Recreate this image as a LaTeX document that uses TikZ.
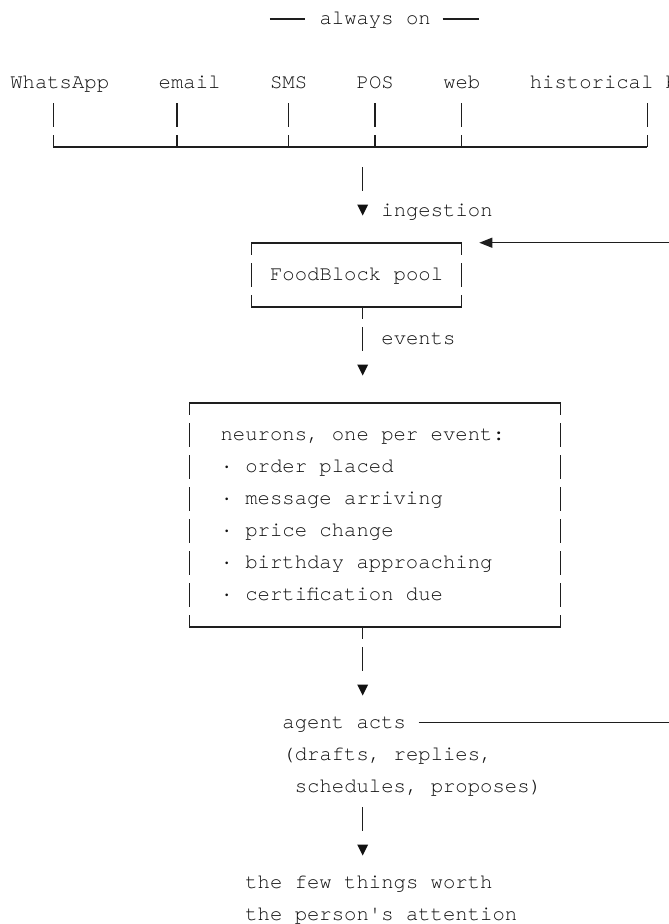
\documentclass[tikz,border=0pt]{standalone}
\usepackage{fontspec}
\setmonofont{texgyrecursor-regular.otf}
\usetikzlibrary{arrows.meta,calc}
\definecolor{ink}{HTML}{111111}
\definecolor{wire}{HTML}{1E1E1E}
\tikzset{
  txt/.style={font=\ttfamily\fontsize{20.6}{32}\selectfont, text=ink, inner sep=0pt, anchor=base west},
  rule/.style={draw=wire, line width=1.25pt},
  pipe/.style={rule, dash pattern=on 24pt off 8pt},
  frame/.style={inner sep=0pt, outer sep=0pt, draw=none},
  downtip/.pic={\fill[ink] (-5.5,-7.5) -- (5.5,-7.5) -- (0,3.5) -- cycle;},
  declare function={cl(\c)=10.1+12.37*\c; cm(\c)=16.285+12.37*\c; rc(\r)=20+32*\r; rb(\r)=24.5+32*\r;}
}
\begin{document}
\begin{tikzpicture}[x=1pt,y=-1pt]
\useasboundingbox (0,0) rectangle (669,924);
\fill[white] (0,0) rectangle (669,924);
\clip (0,0) rectangle (669,924);

% heading with rules on both sides
\node[txt] (title) at ({cl(25)},{rb(0)}) {always on};
\draw[rule] ({cl(21)},19) -- ({cl(24)-1.5},19);
\draw[rule] ({cl(35)-0.5},19) -- ({cl(38)-1.5},19);

% input channels, each dropping into the shared bus
\foreach \n/\c/\o/\lbl in {wa/0/3/WhatsApp, em/12/1/email, sms/21/1/SMS, pos/28/1/POS, web/35/1/web, hist/42/9/historical b}{
  \node[txt] (\n) at ({cl(\c)},{rb(2)}) {\lbl};
  \draw[pipe] ($(\n.base west)+({12.37*\o+6.185},14.5)$) -- ++(0,44);
}
\coordinate (busL) at ({cm(3)},147);
\coordinate (busR) at ({cm(51)},147);
\draw[rule] (busL) -- (busR);

% ingestion step
\coordinate (tipA) at ({cm(28)},{rc(6)});
\draw[pipe] ($(tipA)+(0,-45)$) -- ++(0,24);
\pic at (tipA) {downtip};
\node[txt] (ingest) at ({cl(30)},{rb(6)}) {ingestion};

% pool box
\node[frame, minimum width=210.29pt, minimum height=64pt] (pool) at (356.46,275) {};
\draw[rule] (pool.north west) -- (pool.north east) (pool.south west) -- (pool.south east);
\draw[pipe, dash phase=12pt] (pool.north west) -- (pool.south west) (pool.north east) -- (pool.south east);
\node[txt] (poolname) at ({cl(21)},{rb(8)}) {FoodBlock pool};

% events into the neurons
\coordinate (tipB) at ({cm(28)},{rc(11)});
\draw[pipe, dash phase=12pt] (pool.south -| tipB) -- ++(0,44);
\pic at (tipB) {downtip};
\node[txt] (events) at ({cl(30)},{rb(10)}) {events};

% neurons box
\node[frame, minimum width=371.1pt, minimum height=224pt] (neurons) at (375.02,515) {};
\draw[rule] (neurons.north west) -- (neurons.north east) (neurons.south west) -- (neurons.south east);
\draw[pipe, dash phase=12pt] (neurons.north west) -- (neurons.south west) (neurons.north east) -- (neurons.south east);
\foreach \i/\lbl in {0/{neurons, one per event:}, 1/{· order placed}, 2/{· message arriving}, 3/{· price change}, 4/{· birthday approaching}, 5/{· certification due}}{
  \node[txt] (ev\i) at ({cl(17)},{rb(13+\i)}) {\lbl};
}

% agent
\coordinate (tipC) at ({cm(28)},{rc(21)});
\draw[pipe, dash phase=12pt] (neurons.south -| tipC) -- ++(0,44);
\pic at (tipC) {downtip};
\node[txt] (agent) at ({cl(22)},{rb(22)}) {agent acts};
\node[txt] (agentA) at ({cl(22)},{rb(23)}) {(drafts, replies,};
\node[txt] (agentB) at ({cl(23)},{rb(24)}) {schedules, proposes)};

% outcome
\coordinate (tipD) at ({cm(28)},{rc(26)});
\draw[pipe] ($(tipD)+(0,-45)$) -- ++(0,24);
\pic at (tipD) {downtip};
\node[txt] (few1) at ({cl(19)},{rb(27)}) {the few things worth};
\node[txt] (few2) at ({cl(19)},{rb(28)}) {the person's attention};

% feedback loop from the agent back into the pool
\draw[rule, -{Triangle[length=13pt,width=10pt]}]
  ($(agent.base east)+(12.4,-5.8)$) -- ++(300,0) |- ($(pool.north east)+(17.7,-0.3)$);
\end{tikzpicture}
\end{document}
